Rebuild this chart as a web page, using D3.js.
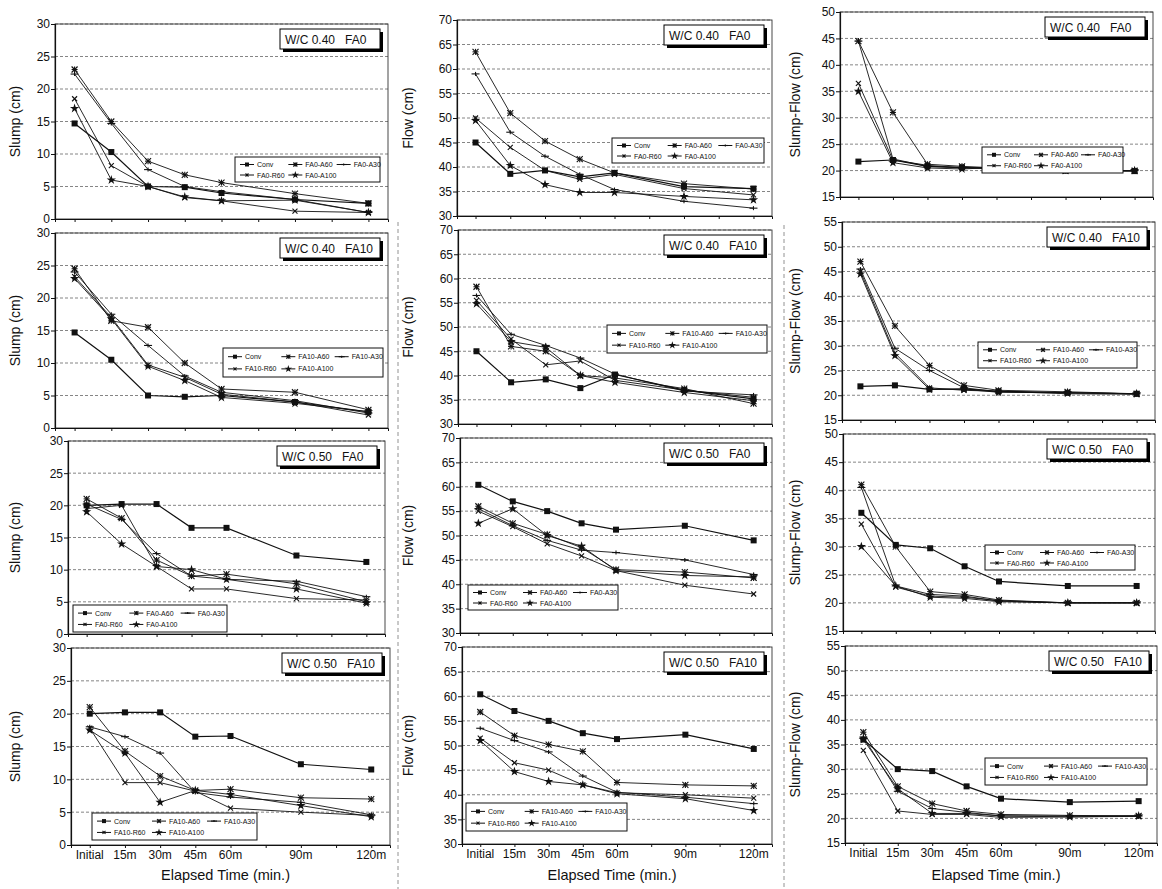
<!DOCTYPE html>
<html>
<head>
<meta charset="utf-8">
<script src="https://cdn.jsdelivr.net/npm/d3@7"></script>
<style>
  body { margin: 0; background: #fff; }
  text { font-family: "Liberation Sans", Arial, sans-serif; fill: #111; }
</style>
</head>
<body>
<svg id="chart" width="1162" height="889"></svg>
<script>
// ── Data ─────────────────────────────────────────────────────────────────────
const times      = [0, 15, 30, 45, 60, 90, 120];
const timeLabels = ['Initial', '15m', '30m', '45m', '60m', '90m', '120m'];
const minorTicks = [0, 15, 30, 45, 60, 75, 90, 105, 120];
const mixNames   = ['Conv', 'A60', 'A30', 'R60', 'A100'];

// W/C 0.40 FA0
const slump40fa0 = [
  [14.7, 10.3, 5.0, 4.9, 4.0, 3.0, 2.4],
  [23.0, 15.0, 8.9, 6.8, 5.6, 3.9, 2.4],
  [22.3, 14.7, 7.6, 5.0, 4.2, 3.0, 1.0],
  [18.5, 8.2, 5.0, 3.3, 2.8, 1.2, 1.0],
  [17.0, 6.0, 5.0, 3.4, 2.8, 2.9, 1.0]
];
const flow40fa0 = [
  [45.0, 38.6, 39.3, 38.0, 38.8, 36.0, 35.6],
  [63.5, 51.0, 45.3, 41.6, 38.8, 36.6, 35.5],
  [59.0, 47.1, 42.2, 38.5, 35.4, 33.0, 31.6],
  [50.0, 44.0, 39.3, 37.5, 38.5, 35.6, 34.3],
  [49.5, 40.3, 36.4, 34.8, 34.8, 34.0, 33.3]
];
const sflow40fa0 = [
  [21.7, 22.0, 20.8, 20.6, 20.3, 20.0, 19.9],
  [44.5, 31.0, 21.2, 20.8, 20.5, 20.0, 20.0],
  [44.5, 22.2, 20.8, 20.5, 20.6, 20.0, 20.0],
  [36.5, 22.0, 21.0, 20.5, 20.5, 20.0, 20.0],
  [35.0, 21.5, 20.5, 20.3, 20.6, 20.0, 20.0]
];

// W/C 0.40 FA10
const slump40fa10 = [
  [14.7, 10.5, 5.0, 4.8, 5.0, 4.0, 2.5],
  [24.5, 16.5, 15.5, 10.0, 6.0, 5.5, 2.8],
  [24.0, 17.5, 12.7, 8.0, 5.5, 4.2, 2.3],
  [23.3, 17.0, 9.7, 7.8, 5.2, 4.0, 2.0],
  [23.0, 16.8, 9.5, 7.3, 4.7, 3.8, 2.5]
];
const flow40fa10 = [
  [45.0, 38.6, 39.2, 37.4, 40.2, 37.0, 35.2],
  [58.3, 46.0, 45.0, 40.0, 39.5, 37.3, 34.2],
  [56.5, 48.5, 46.2, 43.6, 40.3, 36.8, 36.0],
  [55.5, 47.5, 42.2, 43.0, 39.0, 37.0, 35.5],
  [54.8, 47.0, 45.8, 40.0, 38.6, 36.5, 34.8]
];
const sflow40fa10 = [
  [21.8, 22.0, 21.2, 21.3, 20.8, 20.5, 20.3],
  [47.0, 34.0, 26.0, 22.0, 21.0, 20.7, 20.3],
  [45.5, 29.5, 25.0, 21.5, 20.7, 20.5, 20.3],
  [45.0, 28.5, 21.5, 21.0, 20.8, 20.3, 20.2],
  [44.5, 28.0, 21.2, 21.2, 20.6, 20.5, 20.3]
];

// W/C 0.50 FA0
const slump50fa0 = [
  [20.0, 20.2, 20.2, 16.5, 16.5, 12.2, 11.2],
  [21.0, 18.0, 11.5, 9.0, 9.3, 7.8, 5.0],
  [20.2, 17.8, 12.5, 9.0, 8.5, 8.2, 5.8],
  [19.5, 20.0, 10.5, 7.0, 7.0, 5.5, 5.3],
  [19.0, 14.0, 10.5, 10.0, 8.5, 7.0, 4.8]
];
const flow50fa0 = [
  [60.4, 57.0, 55.0, 52.5, 51.2, 52.0, 49.0],
  [56.0, 52.5, 50.2, 47.5, 43.0, 42.5, 41.3],
  [55.5, 52.0, 49.0, 47.0, 46.5, 45.0, 42.0],
  [55.0, 51.8, 48.3, 45.8, 42.8, 39.8, 38.0],
  [52.5, 55.5, 50.0, 47.8, 42.8, 41.8, 41.5]
];
const sflow50fa0 = [
  [36.0, 30.3, 29.7, 26.5, 23.8, 23.0, 23.0],
  [41.0, 30.0, 22.0, 21.5, 20.5, 20.0, 20.0],
  [40.5, 23.0, 21.5, 21.2, 20.3, 20.0, 20.0],
  [34.0, 22.8, 21.2, 21.0, 20.4, 20.0, 20.0],
  [30.0, 23.0, 21.0, 20.8, 20.2, 20.0, 20.0]
];

// W/C 0.50 FA10
const slump50fa10 = [
  [20.0, 20.2, 20.2, 16.5, 16.6, 12.3, 11.5],
  [21.0, 14.3, 10.5, 8.3, 8.5, 7.2, 7.0],
  [18.0, 16.5, 14.0, 8.0, 7.3, 6.5, 4.6],
  [17.8, 9.5, 9.5, 8.2, 5.6, 5.0, 4.5],
  [17.5, 14.0, 6.5, 8.3, 7.7, 6.0, 4.3]
];
const flow50fa10 = [
  [60.4, 57.0, 55.0, 52.5, 51.3, 52.2, 49.3],
  [56.8, 52.0, 50.2, 48.8, 42.5, 42.0, 41.8],
  [53.5, 51.0, 48.7, 43.8, 40.5, 39.5, 38.2],
  [51.5, 46.5, 45.0, 42.0, 40.4, 40.0, 39.3],
  [51.0, 44.7, 42.7, 42.0, 40.2, 39.2, 36.8]
];
const sflow50fa10 = [
  [36.0, 30.0, 29.6, 26.5, 24.0, 23.3, 23.5],
  [37.5, 26.5, 23.0, 21.5, 20.8, 20.6, 20.5],
  [36.5, 25.5, 22.0, 21.2, 20.5, 20.5, 20.5],
  [33.8, 21.5, 20.8, 20.8, 20.2, 20.3, 20.4],
  [36.0, 26.0, 21.0, 21.0, 20.5, 20.3, 20.5]
];

// ── Panel setup ──────────────────────────────────────────────────────────────
const panels = [
  { wc: '0.40', fa: 'FA0',  y: 'Slump (cm)',      dom: [0, 30],  data: slump40fa0 },
  { wc: '0.40', fa: 'FA0',  y: 'Flow (cm)',       dom: [30, 70], data: flow40fa0 },
  { wc: '0.40', fa: 'FA0',  y: 'Slump-Flow (cm)', dom: [15, 50], data: sflow40fa0 },
  { wc: '0.40', fa: 'FA10', y: 'Slump (cm)',      dom: [0, 30],  data: slump40fa10 },
  { wc: '0.40', fa: 'FA10', y: 'Flow (cm)',       dom: [30, 70], data: flow40fa10 },
  { wc: '0.40', fa: 'FA10', y: 'Slump-Flow (cm)', dom: [15, 55], data: sflow40fa10 },
  { wc: '0.50', fa: 'FA0',  y: 'Slump (cm)',      dom: [0, 30],  data: slump50fa0 },
  { wc: '0.50', fa: 'FA0',  y: 'Flow (cm)',       dom: [30, 70], data: flow50fa0 },
  { wc: '0.50', fa: 'FA0',  y: 'Slump-Flow (cm)', dom: [15, 50], data: sflow50fa0 },
  { wc: '0.50', fa: 'FA10', y: 'Slump (cm)',      dom: [0, 30],  data: slump50fa10 },
  { wc: '0.50', fa: 'FA10', y: 'Flow (cm)',       dom: [30, 70], data: flow50fa10 },
  { wc: '0.50', fa: 'FA10', y: 'Slump-Flow (cm)', dom: [15, 55], data: sflow50fa10 }
];

// plot rectangles [x0, y0, x1, y1] and legend boxes [x, y, w, h]
const frames = [
  [55, 24, 388, 219],  [457, 20, 772, 216],  [840, 12, 1153, 197],
  [55, 233, 388, 428], [458, 230, 772, 424], [842, 222, 1155, 420],
  [68, 441, 385, 634], [460, 438, 772, 633], [843, 434, 1155, 631],
  [71, 648, 390, 845], [462, 647, 772, 844], [845, 646, 1157, 843]
];
const legendBoxes = [
  [235, 157, 145, 25], [612, 138, 152, 25], [982, 147, 141, 26],
  [223, 348, 160, 29], [607, 325, 160, 28], [978, 342, 159, 26],
  [73, 605, 154, 27],  [468, 585, 150, 25], [985, 545, 150, 25],
  [92, 813, 165, 27],  [466, 803, 161, 28], [985, 758, 162, 27]
];

const svg = d3.select('#chart');

// faint scan separators
[[398, 222, 889], [784, 225, 889]].forEach(([x, a, b]) => {
  svg.append('line').attr('x1', x).attr('x2', x).attr('y1', a).attr('y2', b)
    .attr('stroke', '#777').attr('stroke-width', 0.8).attr('stroke-dasharray', '4,3');
});

function marker(g, type, x, y, s = 3) {
  const m = g.append('g').attr('transform', `translate(${x},${y})`);
  const ln = (x1, y1, x2, y2) => m.append('line')
    .attr('x1', x1).attr('y1', y1).attr('x2', x2).attr('y2', y2)
    .attr('stroke', '#111').attr('stroke-width', 1.1);
  if (type === 0) {
    m.append('rect').attr('x', -s).attr('y', -s).attr('width', 2 * s).attr('height', 2 * s).attr('fill', '#111');
  } else if (type === 1) {
    ln(-s, 0, s, 0); ln(0, -s, 0, s); ln(-s, -s, s, s); ln(-s, s, s, -s);
  } else if (type === 2) {
    ln(-s - 1, 0, s + 1, 0); ln(0, -s + 1, 0, s - 1);
  } else if (type === 3) {
    ln(-s + 0.5, -s + 0.5, s - 0.5, s - 0.5); ln(-s + 0.5, s - 0.5, s - 0.5, -s + 0.5);
  } else {
    m.append('path').attr('d', d3.symbol(d3.symbolStar, s * 9)()).attr('fill', '#111');
  }
}

panels.forEach((p, i) => {
  const [x0, y0, x1, y1] = frames[i];
  const row = Math.floor(i / 3);
  const x = d3.scaleLinear().domain([-8, 128]).range([x0, x1]);
  const y = d3.scaleLinear().domain(p.dom).range([y1, y0]);
  const g = svg.append('g');

  // grid
  const yTicks = d3.range(p.dom[0], p.dom[1] + 0.1, 5);
  g.append('g').selectAll('line').data(yTicks.slice(1)).join('line')
    .attr('x1', x0).attr('x2', x1).attr('y1', d => y(d)).attr('y2', d => y(d))
    .attr('stroke', '#666').attr('stroke-width', 0.8).attr('stroke-dasharray', '3,2');

  // frame
  g.append('rect').attr('x', x0).attr('y', y0).attr('width', x1 - x0).attr('height', y1 - y0)
    .attr('fill', 'none').attr('stroke', '#333').attr('stroke-width', 0.9);

  // y axis
  const ya = g.append('g').attr('transform', `translate(${x0},0)`)
    .call(d3.axisLeft(y).tickValues(yTicks).tickSize(4).tickFormat(d3.format('d')));
  ya.select('.domain').attr('stroke', '#111').attr('stroke-width', 1.2);
  ya.selectAll('.tick line').attr('stroke', '#111');
  ya.selectAll('.tick text').attr('font-size', 12).attr('font-family', '"Liberation Sans", Arial, sans-serif')
    .attr('fill', '#222').attr('x', -5);

  // x axis ticks
  const xa = g.append('g').attr('transform', `translate(0,${y1})`)
    .call(d3.axisBottom(x).tickValues(minorTicks).tickSize(3).tickFormat(''));
  xa.select('.domain').attr('stroke', '#111').attr('stroke-width', 1);
  xa.selectAll('.tick line').attr('stroke', '#111');

  if (row === 3) {
    g.append('g').selectAll('text').data(times).join('text')
      .attr('x', d => x(d)).attr('y', y1 + 14).attr('text-anchor', 'middle')
      .attr('font-size', 12).attr('fill', '#222')
      .text((d, k) => timeLabels[k]);
    g.append('text').attr('x', (x0 + x1) / 2 - 5).attr('y', 880).attr('text-anchor', 'middle')
      .attr('font-size', 14.5).text('Elapsed Time (min.)');
  }

  // y label
  const lx = [20, 413, 800][i % 3];
  g.append('text').attr('transform', `translate(${lx},${(y0 + y1) / 2}) rotate(-90)`)
    .attr('text-anchor', 'middle').attr('font-size', 14).text(p.y);

  // series
  const line = d3.line().x((d, k) => x(times[k])).y(d => y(d));
  p.data.forEach((s, si) => {
    g.append('path').datum(s).attr('d', line).attr('fill', 'none')
      .attr('stroke', '#111').attr('stroke-width', si === 0 ? 1.2 : 0.9);
    s.forEach((v, k) => marker(g, si, x(times[k]), y(v)));
  });

  // title box with shadow
  const bw = 100, bh = 20, bx = x1 - bw - 8, by = y0 + 5;
  g.append('rect').attr('x', bx + 3).attr('y', by + 3).attr('width', bw).attr('height', bh).attr('fill', '#000');
  g.append('rect').attr('x', bx).attr('y', by).attr('width', bw).attr('height', bh)
    .attr('fill', '#fff').attr('stroke', '#000').attr('stroke-width', 1);
  g.append('text').attr('x', bx + 5).attr('y', by + 14.5).attr('font-size', 12)
    .attr('xml:space', 'preserve').text(`W/C ${p.wc}   ${p.fa}`);

  // legend
  const [lx0, ly0, lw, lh] = legendBoxes[i];
  const lg = g.append('g');
  lg.append('rect').attr('x', lx0).attr('y', ly0).attr('width', lw).attr('height', lh)
    .attr('fill', '#fff').attr('stroke', '#111').attr('stroke-width', 1);
  mixNames.forEach((n, k) => {
    const cx = lx0 + 5 + (k % 3) * (lw / 3);
    const cy = ly0 + (k < 3 ? lh * 0.3 : lh * 0.72);
    lg.append('line').attr('x1', cx).attr('x2', cx + 14).attr('y1', cy).attr('y2', cy)
      .attr('stroke', '#111').attr('stroke-width', 1);
    marker(lg, k, cx + 7, cy, 2);
    lg.append('text').attr('x', cx + 17).attr('y', cy + 2.5).attr('font-size', 7)
      .text(k === 0 ? n : `${p.fa}-${n}`);
  });
});
</script>
</body>
</html>
